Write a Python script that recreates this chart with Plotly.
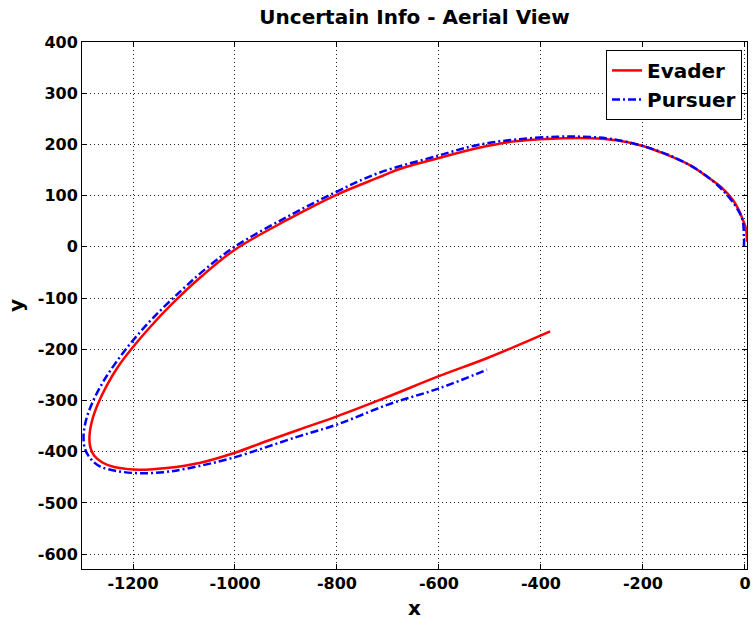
import plotly.graph_objects as go

# Evader trajectory (red, solid)
evader_x = [4, 2, -5, -12, -24, -45, -70, -109, -161, -200, -252, -304, -356, -401, -460,
            -524, -602, -680, -717, -800, -897, -1001, -1066, -1124, -1165, -1202, -1230,
            -1251, -1268, -1279, -1285, -1284, -1276, -1260, -1237, -1210, -1187, -1160,
            -1134, -1070, -1000, -940, -875, -800, -706, -599, -505, -382]
evader_y = [10, 35, 55, 72, 92, 115, 134, 160, 183, 197, 208, 212, 212, 210, 205,
            193, 173, 151, 136, 102, 53, -6, -58, -112, -155, -198, -235,
            -270, -305, -335, -365, -390, -408, -421, -430, -434, -435, -434,
            -432, -422, -402, -380, -357, -331, -295, -252, -217, -165]

# Pursuer trajectory (blue, dash-dot)
pursuer_x = [-2, -2, -5, -18, -44, -83, -135, -200, -265, -317, -369, -446, -524, -602,
             -719, -800, -897, -1001, -1060, -1105, -1160, -1202, -1235, -1260, -1280,
             -1292, -1297, -1294, -1282, -1264, -1230, -1187, -1140, -1095, -1005, -875,
             -800, -700, -599, -506]
pursuer_y = [0, 20, 53, 79, 111, 144, 173, 197, 211, 215, 215, 210, 199, 178,
             144, 108, 59, 0, -45, -85, -138, -185, -228, -266, -305,
             -338, -370, -395, -415, -429, -438, -442, -440, -433, -412, -370,
             -347, -308, -276, -240]

x_ticks = [-1200, -1000, -800, -600, -400, -200, 0]
y_ticks = [-600, -500, -400, -300, -200, -100, 0, 100, 200, 300, 400]

FONT = "DejaVu Sans"

fig = go.Figure()
fig.add_trace(go.Scatter(x=evader_x, y=evader_y, mode="lines", name="Evader",
                         line=dict(color="#ff0000", width=2.5, shape="spline", smoothing=1.0)))
fig.add_trace(go.Scatter(x=pursuer_x, y=pursuer_y, mode="lines", name="Pursuer",
                         line=dict(color="#0000ff", width=2.5, dash="8px,3px,2px,3px",
                                   shape="spline", smoothing=1.0)))

axis_common = dict(
    showline=True, linecolor="black", linewidth=1, mirror="allticks",
    ticks="inside", ticklen=5, tickcolor="black", tickwidth=1,
    showgrid=True, gridcolor="#222222", gridwidth=1, griddash="1px,3px",
    zeroline=False,
    tickfont=dict(family=FONT, size=16, color="black", weight="bold"),
)

fig.update_xaxes(range=[-1300, 4], tickvals=x_ticks, ticktext=[str(v) for v in x_ticks],
                 title=dict(text="x", font=dict(family=FONT, size=20, color="black", weight="bold"),
                            standoff=8),
                 **axis_common)
fig.update_yaxes(range=[-629, 400], tickvals=y_ticks, ticktext=[str(v) for v in y_ticks],
                 title=dict(text="y", font=dict(family=FONT, size=20, color="black", weight="bold"),
                            standoff=8),
                 **axis_common)

fig.update_layout(
    width=756, height=626,
    margin=dict(l=82, r=5, t=42, b=57),
    paper_bgcolor="white", plot_bgcolor="white",
    title=dict(text="Uncertain Info - Aerial View", x=0.5, xref="paper", xanchor="center",
               y=1 - 17 / 626, yref="container", yanchor="middle",
               font=dict(family=FONT, size=20, color="black", weight="bold")),
    legend=dict(x=0.9925, y=0.985, xanchor="right", yanchor="top",
                bgcolor="white", bordercolor="black", borderwidth=1,
                font=dict(family=FONT, size=20, color="black", weight="bold")),
    showlegend=True,
)

fig.write_html("out.html")
